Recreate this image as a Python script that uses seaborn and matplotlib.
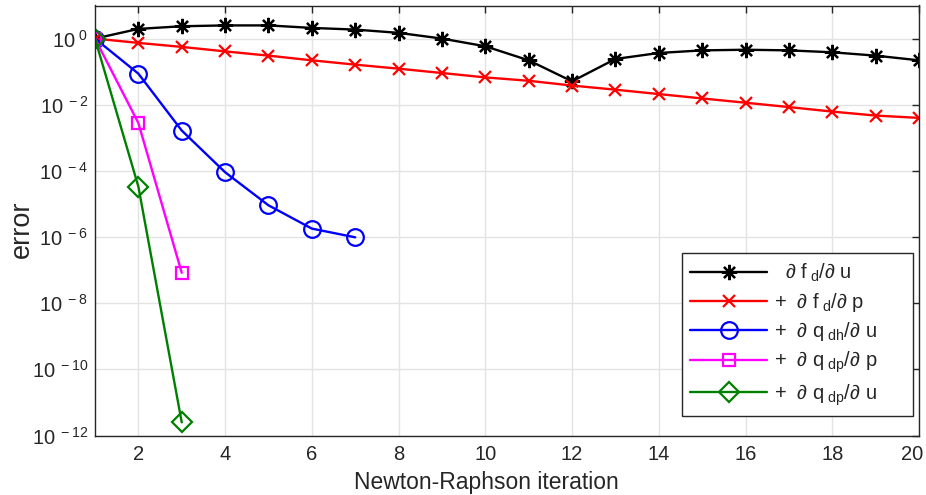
import numpy as np
import pandas as pd
import matplotlib
matplotlib.use("Agg")
import matplotlib.pyplot as plt
import matplotlib.transforms as mtransforms
import seaborn as sns
from matplotlib.ticker import FixedLocator, NullLocator, FuncFormatter

# ---- data ----
iters_fd_u = list(range(1, 21))
err_fd_u = [1.0, 1.96, 2.36, 2.5, 2.5, 2.1, 1.87, 1.49, 1.0, 0.585, 0.22, 0.051,
            0.242, 0.367, 0.44, 0.46, 0.44, 0.385, 0.305, 0.22]
iters_fd_p = list(range(1, 21))
err_fd_p = [1.0, 0.74, 0.56, 0.41, 0.305, 0.22, 0.163, 0.123, 0.091, 0.067, 0.053,
            0.038, 0.0285, 0.021, 0.0155, 0.0115, 0.0085, 0.0062, 0.0047, 0.0040]
iters_qdh_u = [1, 2, 3, 4, 5, 6, 7]
err_qdh_u = [1.0, 0.087, 1.66e-3, 9.1e-5, 9.1e-6, 1.8e-6, 9.8e-7]
iters_qdp_p = [1, 2, 3]
err_qdp_p = [1.0, 2.8e-3, 8.3e-8]
iters_qdp_u = [1, 2, 3]
err_qdp_u = [1.0, 3.35e-5, 2.5e-12]

labels = [r'$\ \ \partial\ \mathrm{f}_{\ \mathrm{d}}/\partial\ \mathrm{u}$',
          r'$+\ \ \partial\ \mathrm{f}_{\ \mathrm{d}}/\partial\ \mathrm{p}$',
          r'$+\ \ \partial\ \mathrm{q}_{\ \mathrm{dh}}/\partial\ \mathrm{u}$',
          r'$+\ \ \partial\ \mathrm{q}_{\ \mathrm{dp}}/\partial\ \mathrm{p}$',
          r'$+\ \ \partial\ \mathrm{q}_{\ \mathrm{dp}}/\partial\ \mathrm{u}$']
xticks = [2, 4, 6, 8, 10, 12, 14, 16, 18, 20]
yticks = [1e-12, 1e-10, 1e-8, 1e-6, 1e-4, 1e-2, 1e0]

sns.set_style("white")
plt.rcParams['font.family'] = ['Liberation Sans', 'DejaVu Sans']
plt.rcParams['mathtext.fontset'] = 'custom'
plt.rcParams['mathtext.rm'] = 'Liberation Sans'
plt.rcParams['mathtext.it'] = 'Liberation Sans:italic'
plt.rcParams['mathtext.default'] = 'regular'

fig = plt.figure(figsize=(9.26, 4.95), dpi=100)
ax = fig.add_axes([95/926, 1-435.5/495, (919-95)/926, (435.5-5.5)/495])

series = [
    (iters_fd_u, err_fd_u, 'black', (8, 2, 0), 11, 'none'),
    (iters_fd_p, err_fd_p, '#ff0000', 'x', 9, 'none'),
    (iters_qdh_u, err_qdh_u, '#0000ff', 'o', 12, 'none'),
    (iters_qdp_p, err_qdp_p, '#ff00ff', 's', 9, 'none'),
    (iters_qdp_u, err_qdp_u, '#008000', 'D', 10.5, 'none'),
]
for (xs, ys, c, m, ms, mfc), lab in zip(series, labels):
    df = pd.DataFrame({'x': xs, 'y': ys})
    sns.lineplot(data=df, x='x', y='y', ax=ax, color=c, marker=m, markersize=ms,
                 markerfacecolor=mfc, markeredgecolor=c, markeredgewidth=1.6,
                 linewidth=1.7, label=lab)

ax.set_yscale('log')
ax.set_xlim(1, 20)
ax.set_ylim(1e-12, 10)
ax.set_xticks(xticks)
ax.set_xticklabels([str(t) for t in xticks])
ax.yaxis.set_major_locator(FixedLocator(yticks))
ax.yaxis.set_minor_locator(NullLocator())
ax.yaxis.set_major_formatter(FuncFormatter(
    lambda v, p: r'$10^{\ %d}$' % int(round(np.log10(v)))))
ax.grid(True, color='#e3e3e3', linewidth=1)
ax.set_axisbelow(True)
for s in ax.spines.values():
    s.set_color('#262626')
    s.set_linewidth(1)
ax.tick_params(direction='in', length=5, width=1, colors='#262626',
               labelsize=14.5, top=True, right=True)
ax.tick_params(axis='x', pad=7)
ax.tick_params(axis='y', pad=5)

# keep last x tick label inside figure (as in reference)
last = ax.xaxis.get_major_ticks()[-1].label1
last.set_horizontalalignment('right')
last.set_transform(last.get_transform() +
                   mtransforms.ScaledTranslation(4/100, 0, fig.dpi_scale_trans))

ax.set_xlabel('Newton-Raphson iteration', fontsize=16.5, color='#262626')
ax.xaxis.set_label_coords(0.475, -0.082)
ax.set_ylabel('error', fontsize=19.5, color='#262626')
ax.yaxis.set_label_coords(-0.073, 0.48)

leg = ax.legend(loc='lower left', bbox_to_anchor=(0.7124, 0.0453, 0.2803, 0.377),
                mode='expand', borderaxespad=0,
                fontsize=14.5, handlelength=3.8, handletextpad=0.35,
                labelspacing=0.33, fancybox=False,
                framealpha=1, edgecolor='#262626', borderpad=0.42)
leg.get_frame().set_linewidth(1)

fig.savefig('out.png', dpi=100)
